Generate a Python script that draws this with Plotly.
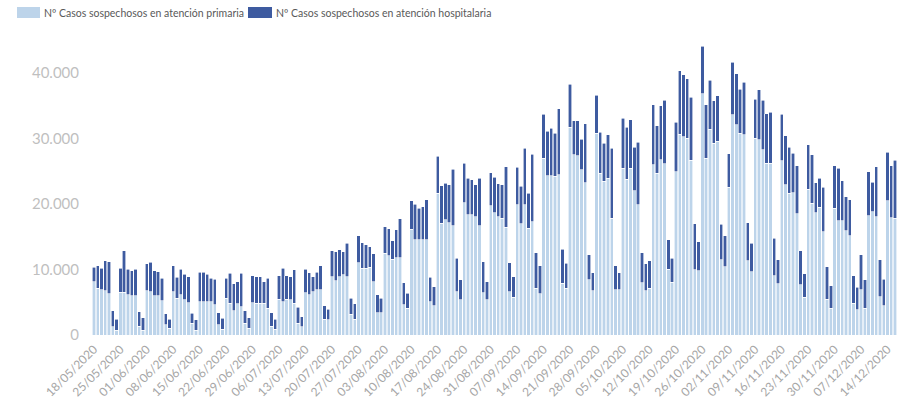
import pandas as pd
import plotly.graph_objects as go

start_date = "2020-05-18"
end_date = "2020-12-16"

# Nº Casos sospechosos en atención primaria (daily, Mon..Sun per row)
primaria = [
    8140, 7130, 6870, 6770, 6260, 1270, 760,
    6520, 6520, 6110, 5960, 5960, 1370, 760,
    6770, 6620, 5960, 5960, 5240, 1530, 1020,
    6620, 5600, 6110, 5340, 4940, 1780, 760,
    5090, 5090, 5090, 5090, 4580, 1530, 860,
    5600, 4840, 3710, 4730, 4330, 1780, 1020,
    4940, 4840, 4840, 4840, 4070, 1370, 860,
    5450, 5090, 5450, 5340, 4840, 1780, 1270,
    6470, 6110, 6620, 6870, 6870, 2390, 2290,
    8910, 8300, 8910, 9160, 8910, 3160, 2390,
    11040, 10180, 10180, 10340, 8140, 3410, 3410,
    12470, 12060, 11560, 11810, 11810, 4580, 4070,
    16140, 14510, 14510, 14560, 14560, 5090, 4430,
    21640, 17060, 17560, 17150, 16640, 6620, 5340,
    20200, 18320, 18320, 18070, 16640, 6470, 5340,
    19700, 18680, 18070, 17820, 16440, 6620, 5750,
    19850, 16950, 19850, 16290, 17300, 7130, 6260,
    26980, 24280, 24280, 24180, 24430, 7890, 7130,
    31710, 27490, 27330, 25200, 23260, 8400, 6770,
    30790, 24690, 23420, 23930, 17820, 6870, 6870,
    25450, 23770, 25450, 22030, 19850, 7990, 6770,
    7130, 25960, 24690, 26720, 26110, 10030, 8040,
    24940, 30640, 30280, 30030, 26620, 9920, 9820,
    36800, 26980, 31410, 29270, 29520, 11450, 10430,
    22550, 33590, 32060, 30790, 30540, 11350, 9670,
    30030, 29780, 28250, 26210, 26210, 9010, 7790,
    26570, 22910, 21640, 21730, 18480, 7640, 5750,
    22250, 20110, 18680, 19500, 15770, 5450, 4070,
    19350, 17450, 17450, 15930, 15120, 4840, 3820,
    6870, 4070, 18220, 18830, 18070, 5850, 4430,
    20510, 17910, 17820,
]

# Nº Casos sospechosos en atención hospitalaria
hospitalaria = [
    2200, 3410, 3310, 4580, 4940, 2440, 1680,
    3660, 6350, 3920, 3810, 4070, 2190, 1880,
    4070, 4480, 3860, 3710, 3410, 1680, 1420,
    3970, 3210, 3920, 3920, 3970, 1530, 1530,
    4480, 4480, 4170, 3560, 3920, 1880, 1680,
    3050, 4580, 4080, 3410, 5090, 1930, 1620,
    4070, 4070, 4070, 3300, 4580, 2040, 1530,
    3560, 5090, 3560, 3570, 5080, 2440, 1530,
    3560, 3410, 2290, 2700, 3670, 2040, 1630,
    3960, 4420, 4070, 3560, 5090, 2440, 2340,
    4080, 3920, 3560, 3140, 4230, 2700, 2190,
    4070, 4130, 2840, 4220, 5900, 3410, 2300,
    4320, 5450, 4840, 5040, 6050, 3720, 2950,
    5590, 5690, 5600, 5760, 8660, 5090, 3060,
    6010, 5610, 5350, 4840, 7290, 4730, 2800,
    5080, 5400, 4990, 5090, 9260, 4420, 3160,
    5750, 5710, 8600, 5350, 10290, 5440, 4280,
    6720, 6770, 7280, 6610, 10080, 5200, 3820,
    6570, 5230, 5390, 4680, 8960, 3820, 2750,
    5770, 6210, 5850, 6610, 10690, 3670, 2650,
    7640, 7940, 7380, 6630, 9520, 4580, 4070,
    4220, 9160, 7220, 8250, 9670, 4480, 3670,
    7480, 9670, 9420, 9060, 9680, 7030, 4430,
    7220, 8140, 7420, 6460, 6980, 5450, 4690,
    5080, 7990, 7790, 6720, 7990, 5800, 4330,
    5960, 7630, 7530, 7540, 7740, 5750, 3660,
    7130, 7480, 7020, 6020, 7330, 5230, 3560,
    6760, 7380, 4580, 4430, 6780, 4980, 3410,
    6460, 8000, 6110, 5190, 5490, 4170, 3460,
    5350, 4330, 6720, 4480, 7630, 5600, 4070,
    7330, 7900, 8800,
]

dates = pd.date_range(start_date, end_date, freq="D")
tick_dates = pd.date_range(start_date, "2020-12-14", freq="7D")
tick_text = [d.strftime("%d/%m/%Y") for d in tick_dates]
y_ticks = [0, 10000, 20000, 30000, 40000]
y_text = ["0", "10.000", "20.000", "30.000", "40.000"]

name_prim = "Nº Casos sospechosos en atención primaria"
name_hosp = "Nº Casos sospechosos en atención hospitalaria"
col_prim = "#BDD4EA"
col_hosp = "#3E5BA0"

W, H = 899, 417
L, R, T, B = 92, 2, 40, 82
pw, ph = W - L - R, H - T - B


def px_x(px):
    return (px - L) / pw


def px_y(py):
    return (H - B - py) / ph


fig = go.Figure()
fig.add_trace(go.Bar(x=dates, y=primaria, name=name_prim, showlegend=False,
                     marker=dict(color=col_prim, line=dict(color="white", width=0.6))))
fig.add_trace(go.Bar(x=dates, y=hospitalaria, name=name_hosp, showlegend=False,
                     marker=dict(color=col_hosp, line=dict(color="white", width=0.6))))

# custom legend (wide swatches as in the reference)
legend_items = [(17, 40, name_prim, col_prim), (248, 272, name_hosp, col_hosp)]
shapes = []
annotations = []
for x0, x1, label, col in legend_items:
    shapes.append(dict(type="rect", xref="paper", yref="paper",
                       x0=px_x(x0), x1=px_x(x1), y0=px_y(18), y1=px_y(7),
                       fillcolor=col, line=dict(width=0), layer="above"))
    annotations.append(dict(xref="paper", yref="paper", x=px_x(x1 + 2), y=px_y(12.5),
                            xanchor="left", yanchor="middle", showarrow=False,
                            text=label, font=dict(size=10.5, color="#595959")))

fig.update_layout(
    barmode="stack",
    bargap=0.12,
    width=W, height=H,
    margin=dict(l=L, r=R, t=T, b=B, autoexpand=False),
    plot_bgcolor="white", paper_bgcolor="white",
    font=dict(family="Lato, Open Sans, sans-serif", color="#595959"),
    showlegend=False,
    shapes=shapes,
    annotations=annotations,
    xaxis=dict(
        range=[pd.Timestamp("2020-05-17 12:00"), pd.Timestamp("2020-12-16 12:00")],
        tickmode="array", tickvals=tick_dates, ticktext=tick_text,
        tickangle=-45, tickfont=dict(size=12, color="#A6A6A6"),
        showgrid=False, showline=False, zeroline=False, ticks="",
        ticklabelstandoff=4, automargin=False,
    ),
    yaxis=dict(
        range=[0, 45000],
        tickmode="array", tickvals=y_ticks, ticktext=y_text,
        tickfont=dict(size=15, color="#BFBFBF"),
        showgrid=False, showline=False, zeroline=False, ticks="",
        ticklabelstandoff=12, automargin=False,
    ),
)

fig.write_html("out.html", config={"displayModeBar": False},
               post_script="document.body.style.margin='0';")
